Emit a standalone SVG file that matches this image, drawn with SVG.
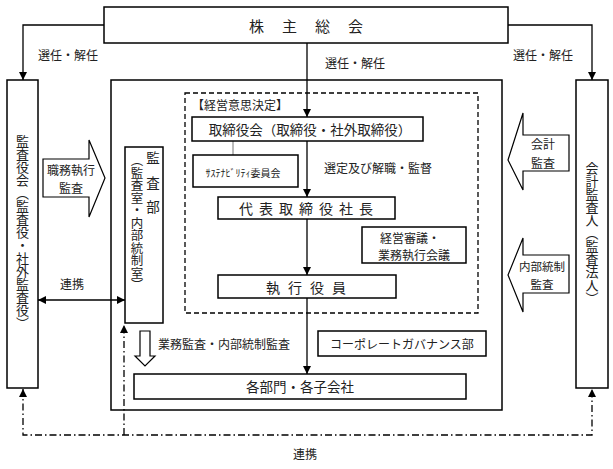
<svg xmlns="http://www.w3.org/2000/svg" width="613" height="469" viewBox="0 0 613 469">
<defs>
<marker id="ah" viewBox="0 0 8 8" refX="8" refY="4" markerWidth="8" markerHeight="8" markerUnits="userSpaceOnUse" orient="auto-start-reverse"><path d="M0,0 L8,4 L0,8 z" fill="#000"/></marker>
</defs>
<style>
.box{fill:#fff;stroke:#000;stroke-width:1.5}
.t{font-family:"Noto Sans CJK JP","Noto Sans CJK SC",sans-serif;fill:#222;text-anchor:middle;dominant-baseline:central}
.v{writing-mode:vertical-rl}
.ln{fill:none;stroke:#000;stroke-width:1.3}
.dd{fill:none;stroke:#000;stroke-width:1.3;stroke-dasharray:7 3 1.5 3}
.ha{fill:#fff;stroke:#000;stroke-width:1.2}
</style>
<rect width="613" height="469" fill="#fff"/>

<g id="outer-frame"><rect class="box" x="111" y="80" width="391" height="330"/></g>
<g id="decision-frame"><rect x="185" y="93" width="293" height="220" fill="none" stroke="#000" stroke-width="1.3" stroke-dasharray="5 3"/>
<text class="t" x="240" y="104" font-size="12">【経営意思決定】</text></g>

<g id="connectors">
<path class="ln" d="M104,25 H23 V80" marker-end="url(#ah)"/>
<path class="ln" d="M508,25 H592 V80" marker-end="url(#ah)"/>
<path class="ln" d="M307,43 V117" marker-end="url(#ah)"/>
<path class="ln" d="M307,141 V197" marker-end="url(#ah)"/>
<path class="ln" d="M307,219 V275" marker-end="url(#ah)"/>
<path class="ln" d="M307,298 V374" marker-end="url(#ah)"/>
<path d="M233,141 V155" stroke="#777" stroke-width="1" fill="none"/>
<path class="ln" d="M38,300 H125" marker-start="url(#ah)" marker-end="url(#ah)"/>
<path class="dd" d="M23,389 V435 H592 V389" marker-start="url(#ah)" marker-end="url(#ah)"/>
<path class="dd" d="M124,435 V325" marker-end="url(#ah)"/>
<text class="t" x="68" y="54" font-size="12">選任・解任</text>
<text class="t" x="543" y="54" font-size="12">選任・解任</text>
<text class="t" x="355" y="62" font-size="12">選任・解任</text>
<text class="t" x="378" y="167" font-size="12">選定及び解職・監督</text>
<text class="t" x="72" y="283" font-size="12">連携</text>
<text class="t" x="305" y="453" font-size="12">連携</text>
</g>

<g id="shareholders"><rect class="box" x="104" y="7" width="404" height="36"/>
<text class="t" x="306" y="25" font-size="15" letter-spacing="18" dx="9">株主総会</text></g>

<g id="auditors-board"><rect class="box" x="7" y="80" width="31" height="308"/>
<text class="t v" x="22.5" y="232" font-size="13">監査役会（監査役・社外監査役）</text></g>

<g id="accounting-auditor"><rect class="box" x="576" y="80" width="32" height="308"/>
<text class="t v" x="592" y="233" font-size="13">会計監査人（監査法人）</text></g>

<g id="audit-dept"><rect class="box" x="125" y="147" width="38" height="176"/>
<text class="t v" x="153" y="188" font-size="13.5" letter-spacing="11">監査部</text>
<text class="t v" x="137" y="223" font-size="12.5">（監査室・内部統制室）</text></g>

<g id="duty-audit-arrow"><polygon class="ha" points="43,159 89,159 89,140 105,178 89,217 89,197 43,197"/>
<text class="t" x="71" y="169" font-size="12">職務執行</text>
<text class="t" x="71" y="187" font-size="12">監査</text></g>

<g id="accounting-audit-arrow"><polygon class="ha" points="569,135 523,135 523,113 508,160 523,190 523,171 569,171"/>
<text class="t" x="543" y="143" font-size="12">会計</text>
<text class="t" x="543" y="162" font-size="12">監査</text></g>

<g id="ic-audit-arrow"><polygon class="ha" points="569,255 523,255 523,238 508,275 523,312 523,293 569,293"/>
<text class="t" x="542" y="266" font-size="11.5">内部統制</text>
<text class="t" x="542" y="284" font-size="11.5">監査</text></g>

<g id="board"><rect class="box" x="192" y="117" width="231" height="24"/>
<text class="t" x="310" y="129" font-size="13.5">取締役会（取締役・社外取締役）</text></g>

<g id="sustainability"><rect class="box" x="193" y="155" width="105" height="32"/>
<text class="t" x="243" y="172" font-size="10">ｻｽﾃﾅﾋﾞﾘﾃｨ委員会</text></g>

<g id="president"><rect class="box" x="218" y="197" width="177" height="22"/>
<text class="t" x="306" y="208" font-size="14" letter-spacing="6" dx="3">代表取締役社長</text></g>

<g id="mgmt-council"><rect class="box" x="362" y="227" width="104" height="36"/>
<text class="t" x="410" y="237" font-size="12">経営審議・</text>
<text class="t" x="414" y="254" font-size="12">業務執行会議</text></g>

<g id="officers"><rect class="box" x="218" y="275" width="178" height="23"/>
<text class="t" x="306" y="287" font-size="14" letter-spacing="8" dx="4">執行役員</text></g>

<g id="biz-audit-arrow"><polygon class="ha" points="140,331 150,331 150,356 155,356 145,366 135,356 140,356"/>
<text class="t" x="224" y="343" font-size="12">業務監査・内部統制監査</text></g>

<g id="corp-gov"><rect class="box" x="318" y="331" width="168" height="25"/>
<text class="t" x="402" y="343" font-size="12">コーポレートガバナンス部</text></g>

<g id="departments"><rect class="box" x="134" y="374" width="332" height="25"/>
<text class="t" x="300" y="386" font-size="13.5">各部門・各子会社</text></g>
</svg>
